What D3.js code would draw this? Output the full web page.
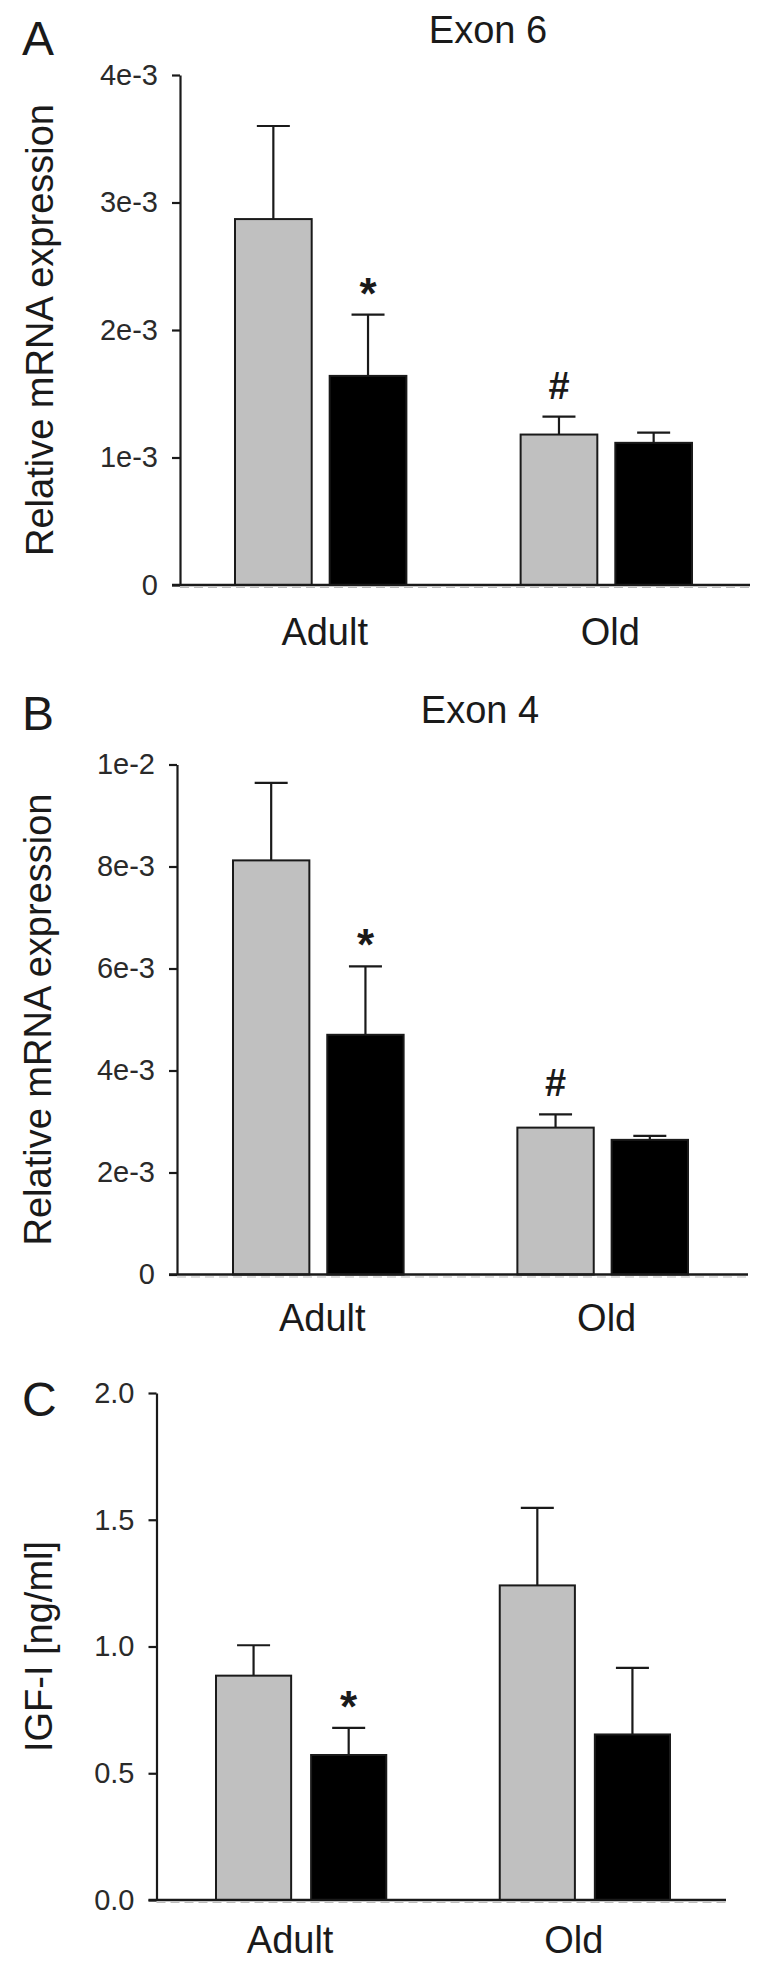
<!DOCTYPE html>
<html>
<head>
<meta charset="utf-8">
<script src="https://cdn.jsdelivr.net/npm/d3@7"></script>
<style>
  html, body { margin: 0; padding: 0; background: #fff; }
  svg { display: block; font-family: "Liberation Sans", Arial, sans-serif; }
</style>
</head>
<body>
<svg id="fig" width="761" height="1965"></svg>
<script>
// ============================================================================
//  Data — mean and SEM per group, gray / black series
// ============================================================================
const groups = ['Adult', 'Old'];
const series = ['gray', 'black'];

const exon6Gray  = [2.87e-3, 1.18e-3];
const exon6Black = [1.64e-3, 1.115e-3];
const exon6GrayErr  = [0.73e-3, 0.14e-3];
const exon6BlackErr = [0.48e-3, 0.08e-3];
const exon6Ticks = [0, 1e-3, 2e-3, 3e-3, 4e-3];
const exon6TickLabels = ['0', '1e-3', '2e-3', '3e-3', '4e-3'];

const exon4Gray  = [8.12e-3, 2.88e-3];
const exon4Black = [4.70e-3, 2.64e-3];
const exon4GrayErr  = [1.52e-3, 0.26e-3];
const exon4BlackErr = [1.34e-3, 0.08e-3];
const exon4Ticks = [0, 2e-3, 4e-3, 6e-3, 8e-3, 1e-2];
const exon4TickLabels = ['0', '2e-3', '4e-3', '6e-3', '8e-3', '1e-2'];

const igfGray  = [0.885, 1.241];
const igfBlack = [0.572, 0.653];
const igfGrayErr  = [0.12, 0.306];
const igfBlackErr = [0.107, 0.263];
const igfTicks = [0, 0.5, 1.0, 1.5, 2.0];
const igfTickLabels = ['0.0', '0.5', '1.0', '1.5', '2.0'];

// significance marks: [group index, series, symbol]
const exon6Marks = [[0, 'black', '*'], [1, 'gray', '#']];
const exon4Marks = [[0, 'black', '*'], [1, 'gray', '#']];
const igfMarks   = [[0, 'black', '*']];

// ============================================================================
//  Panel layout (pixel geometry only)
// ============================================================================
const panels = [
  { letter: 'A', title: 'Exon 6', ylabel: 'Relative mRNA expression',
    gray: exon6Gray, black: exon6Black, grayErr: exon6GrayErr, blackErr: exon6BlackErr,
    ticks: exon6Ticks, tickLabels: exon6TickLabels, marks: exon6Marks,
    axisX: 180, top: 75, bottom: 585, xEnd: 750, band: [235, 692], inner: 0.19,
    letterY: 55, titleX: 488, titleY: 43, labelY: 645, labelDx: 4, ylabX: 53 },
  { letter: 'B', title: 'Exon 4', ylabel: 'Relative mRNA expression',
    gray: exon4Gray, black: exon4Black, grayErr: exon4GrayErr, blackErr: exon4BlackErr,
    ticks: exon4Ticks, tickLabels: exon4TickLabels, marks: exon4Marks,
    axisX: 177, top: 764.5, bottom: 1274.5, xEnd: 748, band: [233, 688], inner: 0.19,
    letterY: 730, titleX: 480, titleY: 723, labelY: 1331, labelDx: 4, ylabX: 51 },
  { letter: 'C', title: '', ylabel: 'IGF-I [ng/ml]',
    gray: igfGray, black: igfBlack, grayErr: igfGrayErr, blackErr: igfBlackErr,
    ticks: igfTicks, tickLabels: igfTickLabels, marks: igfMarks,
    axisX: 156.5, top: 1393, bottom: 1900, xEnd: 726, band: [216, 670], inner: 0.21,
    letterY: 1416, titleX: 0, titleY: 0, labelY: 1953, labelDx: -11, ylabX: 52 },
];

const svg = d3.select('#fig');
const INK = '#1a1a1a';

// ============================================================================
//  Draw one panel
// ============================================================================
function renderPanel(p) {
  const g = svg.append('g');
  const yMax = p.ticks[p.ticks.length - 1];
  const y = d3.scaleLinear([0, yMax], [p.bottom, p.top]);
  const x = d3.scaleBand(groups, p.band).paddingInner(0.4).paddingOuter(0);
  const xs = d3.scaleBand(series, [0, x.bandwidth()]).paddingInner(p.inner).paddingOuter(0);

  const rows = [];
  groups.forEach((gr, i) => {
    rows.push({ group: gr, s: 'gray',  v: p.gray[i],  e: p.grayErr[i] });
    rows.push({ group: gr, s: 'black', v: p.black[i], e: p.blackErr[i] });
  });
  const cx = r => x(r.group) + xs(r.s) + xs.bandwidth() / 2;
  const rowOf = m => rows.find(r => r.group === groups[m[0]] && r.s === m[1]);

  // panel letter + title
  g.append('text').attr('x', 22).attr('y', p.letterY)
    .style('font-size', '48px').style('fill', INK).text(p.letter);
  if (p.title) g.append('text').attr('x', p.titleX).attr('y', p.titleY)
    .attr('text-anchor', 'middle').style('font-size', '38px').style('fill', INK).text(p.title);

  // y axis
  const ax = g.append('g').attr('transform', `translate(${p.axisX},0)`)
    .call(d3.axisLeft(y).tickValues(p.ticks).tickFormat((d, i) => p.tickLabels[i])
      .tickSize(8).tickSizeOuter(0).tickPadding(14));
  ax.select('.domain').attr('stroke', INK).attr('stroke-width', 2.2);
  ax.selectAll('.tick line').attr('stroke', INK).attr('stroke-width', 2.2);
  ax.selectAll('.tick text').style('font-size', '29px').style('fill', '#2a2a2a')
    .style('font-family', '"Liberation Sans", Arial, sans-serif');

  // y label
  g.append('text').attr('transform', `translate(${p.ylabX},${(p.top + p.bottom) / 2}) rotate(-90)`)
    .attr('text-anchor', 'middle').style('font-size', '38px').style('fill', INK).text(p.ylabel);

  // error bars (upper only)
  const eb = g.append('g').attr('stroke', INK).attr('stroke-width', 2.2);
  eb.selectAll('line.v').data(rows).join('line').attr('class', 'v')
    .attr('x1', cx).attr('x2', cx).attr('y1', r => y(r.v)).attr('y2', r => y(r.v + r.e));
  eb.selectAll('line.c').data(rows).join('line').attr('class', 'c')
    .attr('x1', r => cx(r) - 16.5).attr('x2', r => cx(r) + 16.5)
    .attr('y1', r => y(r.v + r.e)).attr('y2', r => y(r.v + r.e));

  // bars
  g.append('g').selectAll('rect').data(rows).join('rect')
    .attr('x', r => x(r.group) + xs(r.s)).attr('width', xs.bandwidth())
    .attr('y', r => y(r.v)).attr('height', r => y(0) - y(r.v))
    .attr('fill', r => r.s === 'gray' ? '#c0c0c0' : '#000')
    .attr('stroke', INK).attr('stroke-width', 2);

  // x axis line (with faint dashed trace beneath, as in the scan)
  g.append('line').attr('x1', p.axisX - 8).attr('x2', p.xEnd).attr('y1', y(0)).attr('y2', y(0))
    .attr('stroke', INK).attr('stroke-width', 2.4);
  g.append('line').attr('x1', p.axisX).attr('x2', p.xEnd).attr('y1', y(0) + 2.5).attr('y2', y(0) + 2.5)
    .attr('stroke', '#bbb').attr('stroke-width', 1).attr('stroke-dasharray', '9,5');

  // group labels
  g.append('g').selectAll('text').data(groups).join('text')
    .attr('x', gr => x(gr) + x.bandwidth() / 2 + p.labelDx).attr('y', p.labelY)
    .attr('text-anchor', 'middle').style('font-size', '38px').style('fill', INK).text(gr => gr);

  // significance marks
  g.append('g').selectAll('text').data(p.marks).join('text')
    .attr('x', m => cx(rowOf(m)))
    .attr('y', m => { const r = rowOf(m); return y(r.v + r.e) - (m[2] === '*' ? 6 : 18); })
    .attr('text-anchor', 'middle').style('font-weight', 700)
    .style('font-size', m => m[2] === '*' ? '44px' : '38px').style('fill', INK).text(m => m[2]);
}

panels.forEach(renderPanel);
</script>
</body>
</html>
